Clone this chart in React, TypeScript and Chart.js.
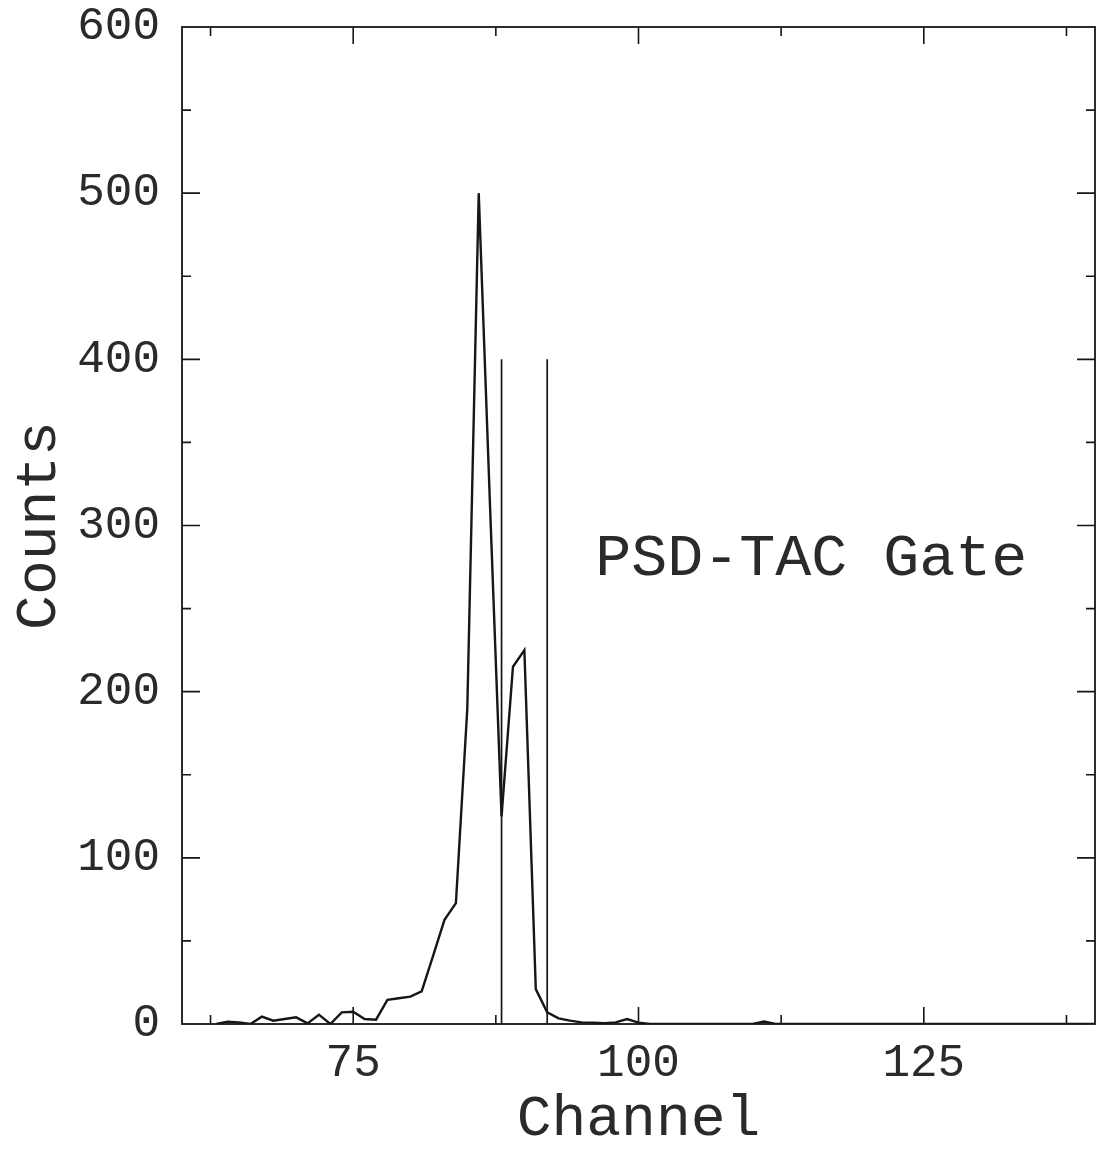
import React, { useEffect, useRef } from "react";
import { Chart, registerables } from "chart.js";

Chart.register(...registerables);

// Spectrum: channel numbers and counts
const channels = [
  63, 64, 65, 66, 67, 68, 69, 70, 71, 72, 73, 74, 75, 76, 77, 78, 79, 80, 81, 82,
  83, 84, 85, 86, 87, 88, 89, 90, 91, 92, 93, 94, 95, 96, 97, 98, 99, 100, 101,
  110, 111, 112, 140,
];
const counts = [
  0, 1.4, 1, 0, 4.4, 2, 3, 4, 0.4, 5.6, 0, 7, 7.4, 3, 2.6, 14.5, 15.5, 16.5, 19.6, 41,
  62.7, 72.7, 190, 500, 310, 125, 215, 225, 21, 7, 3.4, 2, 1, 0.8, 0.5, 1, 3, 0.8, 0,
  0, 1.5, 0, 0,
];

// Gate markers
const gateChannels = [88, 92];
const gateHeight = 400;

// Axes
const xMin = 60;
const xMax = 140;
const yMin = 0;
const yMax = 600;
const xLabelValues = [75, 100, 125];
const xMajorTicks = [75, 100, 125];
const xMinorTicks = [62.5, 87.5, 112.5, 137.5];
const yLabelValues = [0, 100, 200, 300, 400, 500, 600];
const yMajorTicks = [100, 200, 300, 400, 500];
const yMinorTicks = [50, 150, 250, 350, 450, 550];

const xTitle = "Channel";
const yTitle = "Counts";
const annotationText = "PSD-TAC Gate";
const annotationX = 96.2;
const annotationY = 270;

const FONT = '"Liberation Mono", "Courier New", monospace';
const INK = "#161616";
const TEXT = "#2a2a2a";

const frameTicks = {
  id: "frameTicks",
  afterDatasetsDraw(chart: any) {
    const { ctx, chartArea: a, scales } = chart;
    const x = scales.x;
    const y = scales.y;
    ctx.save();
    ctx.strokeStyle = INK;
    ctx.lineWidth = 1.8;
    ctx.strokeRect(a.left, a.top, a.right - a.left, a.bottom - a.top);
    ctx.beginPath();
    const xt = (vals: number[], len: number) => {
      vals.forEach((v) => {
        const p = x.getPixelForValue(v);
        ctx.moveTo(p, a.bottom);
        ctx.lineTo(p, a.bottom - len);
        ctx.moveTo(p, a.top);
        ctx.lineTo(p, a.top + len);
      });
    };
    const yt = (vals: number[], len: number) => {
      vals.forEach((v) => {
        const p = y.getPixelForValue(v);
        ctx.moveTo(a.left, p);
        ctx.lineTo(a.left + len, p);
        ctx.moveTo(a.right, p);
        ctx.lineTo(a.right - len, p);
      });
    };
    xt(xMajorTicks, 17);
    xt(xMinorTicks, 9);
    yt(yMajorTicks, 18);
    yt(yMinorTicks, 9);
    ctx.lineWidth = 1.6;
    ctx.stroke();

    ctx.fillStyle = TEXT;
    ctx.font = `60px ${FONT}`;
    ctx.textBaseline = "alphabetic";
    ctx.textAlign = "left";
    ctx.fillText(annotationText, x.getPixelForValue(annotationX), y.getPixelForValue(annotationY));
    ctx.restore();
  },
};

export default function App() {
  const ref = useRef<HTMLCanvasElement | null>(null);

  useEffect(() => {
    if (!ref.current) return;
    const spectrum = channels.map((c, i) => ({ x: c, y: counts[i] }));
    const gateSets = gateChannels.map((g) => ({
      data: [
        { x: g, y: 0 },
        { x: g, y: gateHeight },
      ],
      borderColor: INK,
      borderWidth: 1.7,
      pointRadius: 0,
      tension: 0,
    }));
    const chart = new Chart(ref.current, {
      type: "line",
      data: {
        datasets: [
          {
            data: spectrum,
            borderColor: INK,
            borderWidth: 2.4,
            pointRadius: 0,
            tension: 0,
          },
          ...gateSets,
        ],
      },
      options: {
        animation: false,
        responsive: true,
        maintainAspectRatio: false,
        layout: { padding: { left: 0, right: 10, top: 27, bottom: 0 } },
        plugins: {
          legend: { display: false },
          tooltip: { enabled: false },
          title: { display: false },
        },
        scales: {
          x: {
            type: "linear",
            min: xMin,
            max: xMax,
            grid: { display: false },
            border: { display: false },
            afterBuildTicks: (s: any) => {
              s.ticks = xLabelValues.map((v) => ({ value: v }));
            },
            afterFit: (s: any) => {
              s.height = 130;
            },
            ticks: {
              color: TEXT,
              font: { family: FONT, size: 46, lineHeight: 1 },
              padding: 9,
              maxRotation: 0,
              autoSkip: false,
            },
            title: {
              display: true,
              text: xTitle,
              color: TEXT,
              font: { family: FONT, size: 58, lineHeight: 1.2 },
              padding: 0,
            },
          },
          y: {
            type: "linear",
            min: yMin,
            max: yMax,
            grid: { display: false },
            border: { display: false },
            afterBuildTicks: (s: any) => {
              s.ticks = yLabelValues.map((v) => ({ value: v }));
            },
            afterFit: (s: any) => {
              s.width = 182;
            },
            ticks: {
              color: TEXT,
              font: { family: FONT, size: 46, lineHeight: 0.5 },
              padding: 14,
              autoSkip: false,
            },
            title: {
              display: true,
              text: yTitle,
              color: TEXT,
              font: { family: FONT, size: 58, lineHeight: 1.2 },
              padding: { top: 5, bottom: 0 },
            },
          },
        },
      },
      plugins: [frameTicks],
    });
    return () => chart.destroy();
  }, []);

  return (
    <div
      style={{
        position: "absolute",
        left: 0,
        top: 0,
        width: 1105,
        height: 1154,
        background: "#ffffff",
      }}
    >
      <canvas ref={ref} />
    </div>
  );
}
